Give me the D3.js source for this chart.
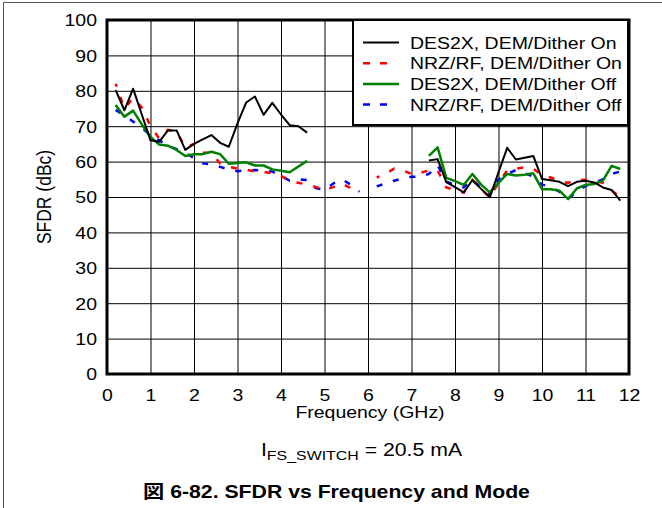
<!DOCTYPE html>
<html><head><meta charset="utf-8">
<script src="https://cdn.jsdelivr.net/npm/d3@7"></script>
<style>
html,body{margin:0;padding:0;background:#fff;}
svg{display:block;font-family:"Liberation Sans",Arial,sans-serif;}
</style></head>
<body>
<svg id="chart" width="662" height="508"></svg>
<script>
// ---- data ----
const freqSolid = [0.2,0.4,0.6,0.8,1.0,1.2,1.4,1.6,1.8,2.0,2.2,2.4,2.6,2.8,3.0,3.2,3.4,3.6,3.8,4.0,4.2,4.4,4.6,6.0,
  7.4,7.6,7.8,8.0,8.2,8.4,8.6,8.8,9.0,9.2,9.4,9.6,9.8,10.0,10.2,10.4,10.6,10.8,11.0,11.2,11.4,11.6,11.8];
const des2xOn = [80.2,74.5,80.6,73.3,66.0,65.6,68.8,68.8,63.3,65.0,66.3,67.5,65.3,64.2,70.8,76.7,78.4,73.2,76.6,73.3,70.3,70.0,68.2,null,
  60.3,60.7,54.2,52.8,51.3,54.8,52.3,49.9,57.0,63.9,60.6,61.1,61.6,55.1,54.7,54.3,53.1,54.3,54.6,54.1,52.7,52.0,49.0];
const des2xOff = [76.0,72.7,74.4,70.5,67.0,64.8,64.5,63.3,61.6,62.1,62.1,62.8,62.1,59.4,59.6,59.8,58.9,58.9,57.8,57.4,57.0,58.6,60.2,null,
  61.6,64.0,55.4,54.5,53.4,56.5,53.5,51.3,54.0,56.5,56.1,56.3,56.7,52.2,52.2,51.8,49.4,52.4,53.4,53.7,54.6,58.8,57.9];
const freqNrz = [0.2,0.4,0.6,0.8,1.0,1.2,1.4,1.6,1.8,2.0,2.2,2.4,2.6,2.8,3.0,3.2,3.4,3.6,3.8,4.0,4.2,4.4,4.6,4.8,5.0,5.2,5.4,5.6,5.8,6.0,
  6.2,6.4,6.6,6.8,7.0,7.2,7.4,7.6,7.8,8.0,8.2,8.4,8.6,8.8,9.0,9.2,9.4,9.6,9.8,10.0,10.2,10.4,10.6,10.8,11.0,11.2,11.4,11.6,11.8];
const nrzOn = [82.0,75.0,78.0,75.3,70.0,66.5,69.0,68.5,64.0,65.0,62.5,62.5,59.5,58.5,58.0,57.7,57.2,57.0,56.8,56.0,54.5,54.0,53.5,52.8,52.0,52.8,53.8,52.5,null,null,
  55.5,56.5,58.0,57.5,56.5,56.8,57.5,57.5,52.7,52.0,51.2,54.8,52.3,49.9,54.0,57.5,58.0,58.4,58.0,56.2,55.5,54.5,54.0,55.0,54.8,54.5,54.0,51.8,50.0];
const nrzOff = [74.6,73.0,71.3,69.5,67.5,66.0,64.5,63.5,62.5,61.0,59.5,59.2,58.5,57.8,57.3,57.5,57.6,57.4,57.2,56.0,54.6,55.0,54.8,52.5,52.0,53.8,55.0,53.5,51.5,null,
  53.0,53.8,54.6,55.3,55.7,55.7,56.5,59.0,54.3,53.5,52.7,55.0,52.5,50.6,55.0,56.5,57.6,56.8,55.7,53.5,52.9,51.5,49.5,51.5,53.1,54.0,55.0,56.5,57.2];
const seriesNames = ["DES2X, DEM/Dither On","NRZ/RF, DEM/Dither On","DES2X, DEM/Dither Off","NRZ/RF, DEM/Dither Off"];
const xTicks = [0,1,2,3,4,5,6,7,8,9,10,11,12];
const yTicks = [0,10,20,30,40,50,60,70,80,90,100];
const xTitle = "Frequency (GHz)";
const yTitle = "SFDR (dBc)";
const captionMain = "I", captionSub = "FS_SWITCH", captionRest = " = 20.5 mA";
const figTitle = "図 6-82. SFDR vs Frequency and Mode";

// ---- layout ----
const SX = 1.18;
const svg = d3.select("#chart");
const L = 107, R = 629, T = 20, B = 374;
const x = d3.scaleLinear().domain([0,12]).range([L,R]);
const y = d3.scaleLinear().domain([0,100]).range([B,T]);

// outer frame (top & left)
svg.append("line").attr("x1",3.5).attr("y1",2.5).attr("x2",662).attr("y2",2.5).attr("stroke","#555").attr("stroke-width",1);
svg.append("line").attr("x1",3.5).attr("y1",2.5).attr("x2",3.5).attr("y2",508).attr("stroke","#555").attr("stroke-width",1);

// grid
const gx = svg.append("g").attr("transform",`translate(0,${B})`)
  .call(d3.axisBottom(x).tickValues(xTicks).tickSize(-(B-T)).tickFormat(""));
const gy = svg.append("g").attr("transform",`translate(${L},0)`)
  .call(d3.axisLeft(y).tickValues(yTicks).tickSize(-(R-L)).tickFormat(""));
[gx,gy].forEach(g=>{ g.select(".domain").remove(); g.selectAll(".tick line").attr("stroke","#000").attr("stroke-width",1); });

// tick labels
const lx = svg.append("g").attr("transform",`translate(0,${B})`)
  .call(d3.axisBottom(x).tickValues(xTicks).tickSize(0).tickPadding(0).tickFormat(d3.format("d")));
lx.select(".domain").remove();
lx.selectAll(".tick text").attr("font-size",16.5).attr("fill","#000").attr("y",0).attr("dy",0)
  .attr("transform",`translate(0,27) scale(${SX},1)`).attr("font-family","Liberation Sans, Arial, sans-serif");
const ly = svg.append("g").attr("transform",`translate(${L},0)`)
  .call(d3.axisLeft(y).tickValues(yTicks).tickSize(0).tickPadding(0).tickFormat(d3.format("d")));
ly.select(".domain").remove();
ly.selectAll(".tick text").attr("font-size",16.5).attr("fill","#000").attr("x",0).attr("dy","0.36em")
  .attr("transform",`translate(-10,0) scale(${SX},1)`).attr("font-family","Liberation Sans, Arial, sans-serif");

// lines
svg.append("clipPath").attr("id","clip").append("rect").attr("x",L).attr("y",T).attr("width",R-L).attr("height",B-T);
const mk = (xs) => d3.line().defined(d=>d!=null).x((d,i)=>x(xs[i])).y(d=>y(d));
const plot = svg.append("g").attr("clip-path","url(#clip)");
plot.append("path").datum(nrzOff).attr("d",mk(freqNrz)).attr("fill","none").attr("stroke","#0000ff").attr("stroke-width",2.5).attr("stroke-dasharray","6,11");
plot.append("path").datum(nrzOn).attr("d",mk(freqNrz)).attr("fill","none").attr("stroke","#ff0000").attr("stroke-width",2.5).attr("stroke-dasharray","6,11").attr("stroke-dashoffset",3);
plot.append("path").datum(des2xOff).attr("d",mk(freqSolid)).attr("fill","none").attr("stroke","#008000").attr("stroke-width",2.5).attr("stroke-linejoin","round");
plot.append("path").datum(des2xOn).attr("d",mk(freqSolid)).attr("fill","none").attr("stroke","#000").attr("stroke-width",2).attr("stroke-linejoin","round");

// plot frame
svg.append("rect").attr("x",L).attr("y",T).attr("width",R-L).attr("height",B-T).attr("fill","none").attr("stroke","#000").attr("stroke-width",3);

// legend
const lg = svg.append("g");
lg.append("rect").attr("x",353).attr("y",20).attr("width",275).attr("height",105).attr("fill","#fff").attr("stroke","#000").attr("stroke-width",2);
const legStyles = [
  {c:"#000",dash:null,w:2,len:36},
  {c:"#ff0000",dash:"7,10",w:2.5,len:24},
  {c:"#008000",dash:null,w:2.5,len:36},
  {c:"#0000ff",dash:"7,10",w:2.5,len:24}];
seriesNames.forEach((n,i)=>{
  const cy = 42.5 + i*20.7;
  const s = legStyles[i];
  const ln = lg.append("line").attr("x1",363).attr("x2",363+s.len).attr("y1",cy).attr("y2",cy).attr("stroke",s.c).attr("stroke-width",s.w);
  if (s.dash) ln.attr("stroke-dasharray",s.dash);
  lg.append("text").attr("transform",`translate(410,${cy+6}) scale(${SX},1)`).attr("font-size",16.5).attr("fill","#000").text(n);
});

// axis titles
svg.append("text").attr("transform",`translate(370,418) scale(${SX},1)`).attr("text-anchor","middle").attr("font-size",16.5).text(xTitle);
svg.append("text").attr("transform",`translate(51,197) scale(${SX},1) rotate(-90)`).attr("text-anchor","middle").attr("font-size",17.5).text(yTitle);

// caption with subscript
const cap = svg.append("text").attr("transform",`translate(361.5,456) scale(${SX},1)`).attr("text-anchor","middle").attr("font-size",18);
cap.append("tspan").text(captionMain);
cap.append("tspan").attr("font-size",13.5).attr("dy",4).text(captionSub);
cap.append("tspan").attr("dy",-4).text(captionRest);

// figure title
svg.append("text").attr("transform",`translate(336.5,498) scale(${SX},1)`).attr("text-anchor","middle").attr("font-size",18).attr("font-weight","bold")
  .attr("font-family","'Liberation Sans','Noto Sans CJK JP',sans-serif").text(figTitle);
</script>
</body></html>
